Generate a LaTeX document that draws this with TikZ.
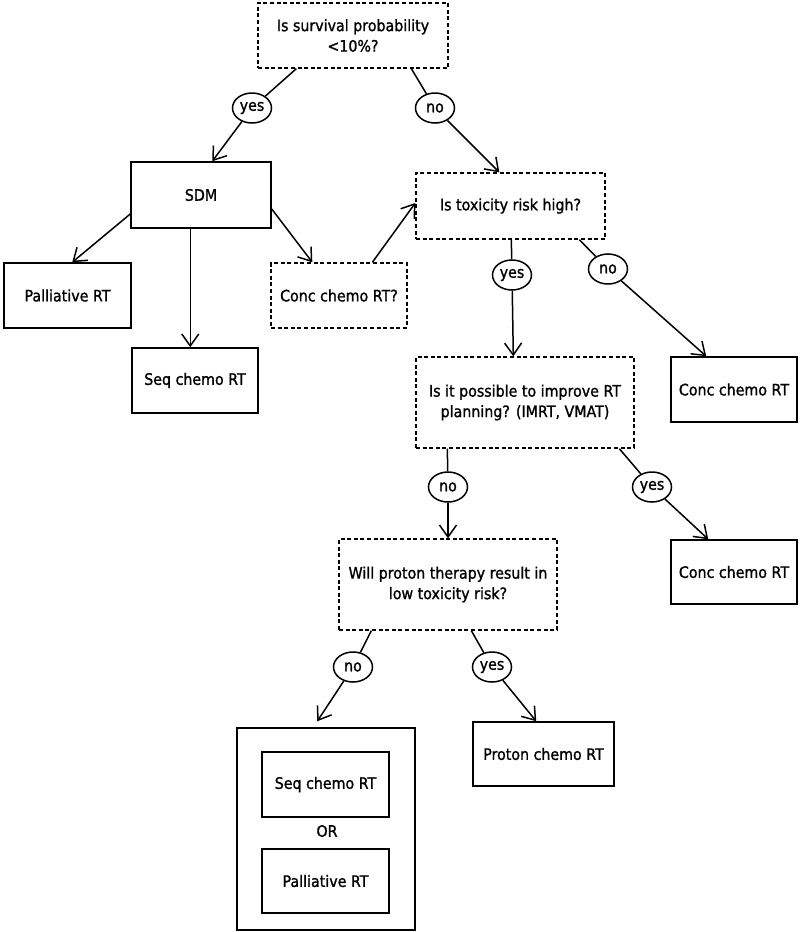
\documentclass[tikz,border=0pt]{standalone}
\usepackage{fontspec}
\setmainfont{DejaVu Sans}
\newfontfamily\dfont[FakeStretch=0.9,FakeBold=1.2]{DejaVu Sans}
\usetikzlibrary{arrows.meta,shapes.geometric}
\begin{document}
\begin{tikzpicture}[x=1pt,y=-1pt,
  every node/.style={font=\dfont\fontsize{15.8}{20.5}\selectfont, align=center, inner sep=0pt},
  box/.style={draw, line width=1.5pt, rectangle},
  qbox/.style={box, line width=1.35pt, dash pattern=on 4pt off 2.6pt},
  lbl/.style={draw, ellipse, line width=1.5pt, minimum width=39pt, minimum height=30pt},
  conn/.style={line width=1.5pt},
  arr/.style={conn, -{Straight Barb[length=12pt,width=17pt,line width=1.5pt]}}
]
\useasboundingbox (0,0) rectangle (800,932);

% nodes
\node[qbox, minimum width=190pt, minimum height=65pt] (q1) at (353,35.5) {Is survival probability\\<10\%?};
\node[lbl] (yes1) at (252,108) {yes};
\node[lbl] (no1) at (435,108) {no};
\node[box, minimum width=140pt, minimum height=66pt] (sdm) at (201,195) {SDM};
\node[box, minimum width=127pt, minimum height=65pt] (pal1) at (67.5,295.5) {Palliative RT};
\node[box, minimum width=126pt, minimum height=65pt] (seq1) at (195,380.5) {Seq chemo RT};
\node[qbox, minimum width=136pt, minimum height=65pt] (conc1) at (339,295.5) {Conc chemo RT?};
\node[qbox, minimum width=189pt, minimum height=66pt] (tox) at (510.5,206) {Is toxicity risk high?};
\node[lbl] (yes2) at (512,275) {yes};
\node[lbl] (no2) at (608,269) {no};
\node[qbox, minimum width=218pt, minimum height=91pt] (imp) at (525,402.5) {Is it possible to improve RT\\planning? (IMRT, VMAT)};
\node[box, minimum width=126pt, minimum height=65pt] (conc2) at (734,389.5) {Conc chemo RT};
\node[lbl] (no3) at (448,487) {no};
\node[lbl] (yes3) at (652,487) {yes};
\node[qbox, minimum width=218pt, minimum height=91pt] (prq) at (448,584.5) {Will proton therapy result in\\low toxicity risk?};
\node[box, minimum width=126pt, minimum height=64pt] (conc3) at (734,572) {Conc chemo RT};
\node[lbl] (no4) at (353,667) {no};
\node[lbl] (yes4) at (492,667) {yes};
\node[box, minimum width=178pt, minimum height=202pt] (outer) at (326,829) {};
\node[box, minimum width=127pt, minimum height=65pt] (seq2) at (325.5,784.5) {Seq chemo RT};
\node (or) at (327,831) {OR};
\node[box, minimum width=127pt, minimum height=64pt] (pal2) at (325.5,881) {Palliative RT};
\node[box, minimum width=141pt, minimum height=64pt] (prot) at (543.5,754) {Proton chemo RT};

% connectors
\draw[conn] ([xshift=39pt]q1.south west) -- (yes1);
\draw[arr] (yes1) -- ([xshift=82pt]sdm.north west);
\draw[conn] ([xshift=154pt]q1.south west) -- (no1);
\draw[arr] (no1) -- ([xshift=84pt]tox.north west);

\draw[arr] ([yshift=-19pt]sdm.west) -- ([xshift=69pt]pal1.north west);
\draw[arr] ([xshift=60pt]sdm.south west) -- ([xshift=59pt]seq1.north west);
\draw[arr] ([yshift=-14pt]sdm.east) -- ([xshift=42pt]conc1.north west);
\draw[arr] ([xshift=102pt]conc1.north west) -- ([yshift=3pt]tox.west);

\draw[conn] ([xshift=96pt]tox.south west) -- (yes2);
\draw[arr] (yes2) -- ([xshift=98pt]imp.north west);
\draw[conn] ([xshift=164pt]tox.south west) -- (no2);
\draw[arr] (no2) -- ([xshift=36pt]conc2.north west);

\draw[conn] ([xshift=32pt]imp.south west) -- (no3);
\draw[arr] (no3) -- (prq.north);
\draw[conn] ([xshift=204pt]imp.south west) -- (yes3);
\draw[arr] (yes3) -- ([xshift=38pt]conc3.north west);

\draw[conn] ([xshift=33pt]prq.south west) -- (no4);
\draw[arr] (no4) -- ([xshift=81pt,yshift=6pt]outer.north west);
\draw[conn] ([xshift=133pt]prq.south west) -- (yes4);
\draw[arr] (yes4) -- ([xshift=64pt]prot.north west);
\end{tikzpicture}
\end{document}
